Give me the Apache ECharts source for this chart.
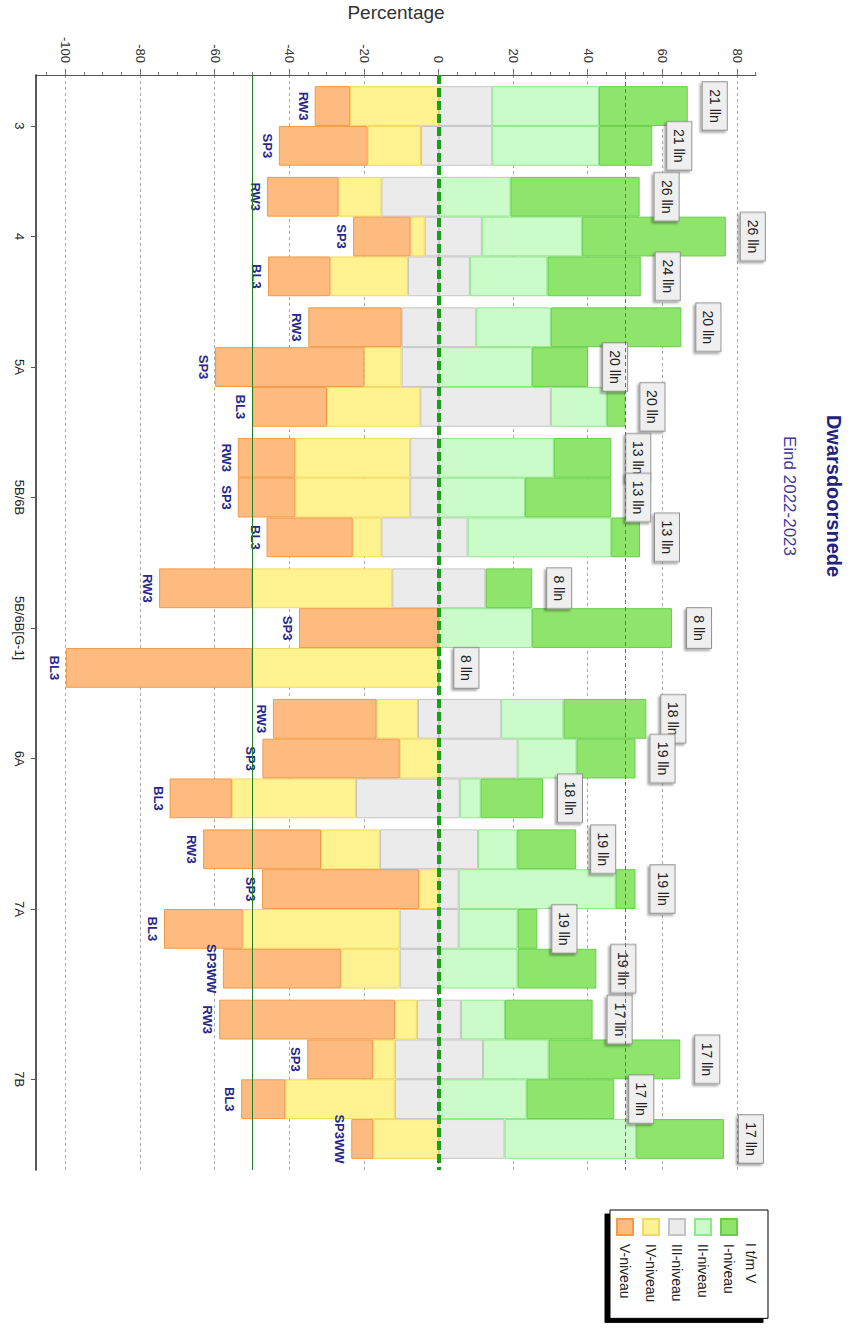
<!DOCTYPE html>
<html>
<head>
<meta charset="utf-8">
<script src="https://cdn.jsdelivr.net/npm/echarts@6/dist/echarts.min.js"></script>
<style>
html,body{margin:0;padding:0;width:850px;height:1328px;overflow:hidden;background:#fff;}
#chart{position:absolute;left:0;top:0;width:1328px;height:850px;transform-origin:0 0;transform:translate(850px,0) rotate(90deg);background:#fff;}
</style>
</head>
<body>
<div id="chart"></div>
<script>
// ---- data ----
const groups = ['3','4','5A','5B/6B','5B/6B[G-1]','6A','7A','7B'];
const subLabels = ['RW3','SP3','RW3','SP3','BL3','RW3','SP3','BL3','RW3','SP3','BL3','RW3','SP3','BL3','RW3','SP3','BL3','RW3','SP3','BL3','SP3WW','RW3','SP3','BL3','SP3WW'];
const barGroup = [0,0,1,1,1,2,2,2,3,3,3,4,4,4,5,5,5,6,6,6,6,7,7,7,7];
const pupils = [21,21,26,26,24,20,20,20,13,13,13,8,8,8,18,19,18,19,19,19,19,17,17,17,17];
// percentages (negative side)
const niveauV = [9.5,23.8,19.2,15.4,16.7,25,40,20,15.4,15.4,23.1,25,37.5,50,27.8,36.8,16.7,31.6,42.1,21.1,31.6,47.1,17.6,11.8,5.9];
const niveauIV = [23.8,14.3,11.5,3.8,20.8,0,10,25,30.8,30.8,7.7,37.5,0,50,11.1,10.5,33.3,15.8,5.3,42.1,15.8,5.9,5.9,29.4,17.6];
const niveauIIIneg = [0,4.8,15.4,3.8,8.3,10,10,5,7.7,7.7,15.4,12.5,0,0,5.6,0,22.2,15.8,0,10.5,10.5,5.9,11.8,11.8,0];
// percentages (positive side)
const niveauIIIpos = [14.3,14.3,0,11.5,8.3,10,0,30,0,0,7.7,12.5,0,0,16.7,21.1,5.6,10.5,5.3,5.3,0,5.9,11.8,0,17.6];
const niveauII = [28.6,28.6,19.2,26.9,20.8,20,25,15,30.8,23.1,38.5,0,25,0,16.7,15.8,5.6,10.5,42.1,15.8,21.1,11.8,17.6,23.5,35.3];
const niveauI = [23.8,14.3,34.6,38.5,25,35,15,5,15.4,23.1,7.7,12.5,37.5,0,22.2,15.8,16.7,15.8,5.3,5.3,21.1,23.5,35.3,23.5,23.5];
// tick labels
const yTicks = [-100,-80,-60,-40,-20,0,20,40,60,80];
const yMinorTicks = [-105,-100,-95,-90,-85,-80,-75,-70,-65,-60,-55,-50,-45,-40,-35,-30,-25,-20,-15,-10,-5,0,5,10,15,20,25,30,35,40,45,50,55,60,65,70,75,80,85];

// ---- layout helpers ----
const GAP = 0.28;
const positions = subLabels.map((_, i) => GAP * (barGroup[i] + 1) + i + 0.5);
const xMax = subLabels.length + GAP * (groups.length + 1);
const groupCenters = groups.map((g, gi) => {
  const p = positions.filter((_, i) => barGroup[i] === gi);
  return p.reduce((a, b) => a + b, 0) / p.length;
});

const FONT = 'Liberation Sans, Arial, sans-serif';
const C = {
  I: ['#8fe46b', '#66cf48'],
  II: ['#ccfbca', '#8ee78a'],
  III: ['#ebebeb', '#c4c4c4'],
  IV: ['#fff290', '#f3d95c'],
  V: ['#fdbb80', '#f39a45']
};

// data items are [value, position] so that the value dimension is the stacked one
function mk(name, vals, sign, col, extra, keepZero) {
  return Object.assign({
    name: name,
    type: 'bar',
    stack: 'total',
    stackStrategy: sign > 0 ? 'positive' : 'negative',
    barWidth: '100%',
    encode: { x: 1, y: 0 },
    data: vals.map((v, i) => [(v === 0 && !keepZero) ? null : sign * v, positions[i]]),
    itemStyle: { color: col[0], borderColor: col[1], borderWidth: 1 },
    emphasis: { disabled: true },
    silent: true
  }, extra || {});
}

const series = [
  mk('III-niveau', niveauIIIneg, -1, C.III),
  mk('IV-niveau', niveauIV, -1, C.IV),
  mk('V-niveau', niveauV, -1, C.V, {
    label: {
      show: true, position: 'bottom', distance: 5,
      formatter: p => subLabels[p.dataIndex],
      color: '#27278a', fontWeight: 'bold', fontSize: 13, fontFamily: FONT
    },
    markLine: {
      silent: true, symbol: 'none', animation: false, z: 6,
      label: { show: false },
      data: [
        { yAxis: -50, lineStyle: { color: '#237d23', width: 1, type: 'solid' } },
        { yAxis: 50, lineStyle: { color: '#2e9a2e', width: 1, type: [4, 3] } },
        { yAxis: 0, lineStyle: { color: '#16a016', width: 4, type: [9, 4] } }
      ]
    }
  }),
  mk('III-niveau', niveauIIIpos, 1, C.III),
  mk('II-niveau', niveauII, 1, C.II),
  mk('I-niveau', niveauI, 1, C.I, {
    label: {
      show: true, position: 'top', distance: 15,
      formatter: p => pupils[p.dataIndex] + ' lln',
      color: '#222', fontSize: 14, fontFamily: FONT,
      backgroundColor: '#efefef', borderColor: '#8c8c8c', borderWidth: 1,
      padding: [5, 7],
      shadowColor: 'rgba(0,0,0,0.35)', shadowBlur: 2, shadowOffsetX: 2, shadowOffsetY: 2
    }
  }, true)
];

const chart = echarts.init(document.getElementById('chart'), null, { renderer: 'svg', width: 1328, height: 850 });
chart.setOption({
  animation: false,
  backgroundColor: '#fff',
  textStyle: { fontFamily: FONT },
  title: {
    text: 'Dwarsdoorsnede', subtext: 'Eind 2022-2023',
    left: 496, top: 6, padding: 0, textAlign: 'center', itemGap: 26,
    textStyle: { fontSize: 20, fontWeight: 'bold', color: '#23237f', fontFamily: FONT },
    subtextStyle: { fontSize: 17, color: '#3b3b9b', fontFamily: FONT }
  },
  legend: {
    orient: 'vertical', left: 1210, top: 82,
    data: ['I-niveau', 'II-niveau', 'III-niveau', 'IV-niveau', 'V-niveau'],
    icon: 'rect', itemWidth: 16, itemHeight: 16, itemGap: 8,
    padding: [30, 16, 6, 8],
    borderColor: '#000', borderWidth: 1, backgroundColor: '#fff',
    shadowColor: '#000', shadowBlur: 0, shadowOffsetX: 4, shadowOffsetY: 5,
    selectedMode: false,
    textStyle: { fontSize: 14, color: '#222', fontFamily: FONT, padding: [0, 0, 0, 4] }
  },
  graphic: [{
    type: 'text', left: 1243, top: 92, z: 100,
    style: { text: 'I t/m V', fontSize: 14, fill: '#222', fontFamily: FONT }
  }],
  grid: { left: 75, right: 158, top: 94, bottom: 36, containLabel: false, outerBoundsMode: 'none' },
  xAxis: {
    type: 'value', min: 0, max: xMax, position: 'bottom',
    axisLine: { onZero: false, lineStyle: { color: '#222', width: 1.5 } },
    axisTick: { customValues: groupCenters, length: 5, lineStyle: { color: '#555' } },
    axisLabel: {
      customValues: groupCenters, margin: 10, color: '#222', fontSize: 13,
      formatter: v => {
        let best = 0;
        groupCenters.forEach((c, i) => { if (Math.abs(c - v) < Math.abs(groupCenters[best] - v)) best = i; });
        return groups[best];
      }
    },
    splitLine: { show: false }
  },
  yAxis: [{
    type: 'value', min: -108, max: 85, position: 'left',
    name: 'Percentage', nameLocation: 'middle', nameGap: 53,
    nameTextStyle: { fontSize: 19, color: '#333', fontFamily: FONT },
    axisLine: { show: true, onZero: false, lineStyle: { color: '#555', width: 1 } },
    axisTick: { customValues: yTicks, length: 6, lineStyle: { color: '#666' } },
    axisLabel: { customValues: yTicks, margin: 12, color: '#333', fontSize: 13 },
    splitLine: { show: true, lineStyle: { color: '#a8a8a8', type: [3, 3], width: 1 } }
  }, {
    type: 'value', min: -108, max: 85, position: 'left',
    axisLine: { show: false, onZero: false },
    axisTick: { show: true, customValues: yMinorTicks, length: 3, lineStyle: { color: '#777' } },
    axisLabel: { show: false },
    splitLine: { show: false }
  }],
  series: series
});
</script>
</body>
</html>
